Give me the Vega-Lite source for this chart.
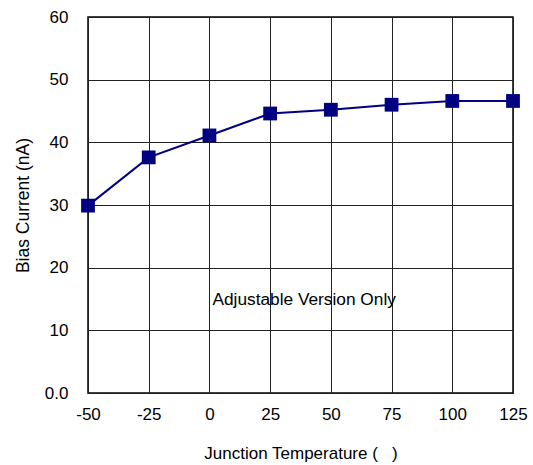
{
  "$schema": "https://vega.github.io/schema/vega-lite/v6.json",
  "autosize": {"type": "none"},
  "padding": {"left": 88, "top": 17, "right": 20, "bottom": 72},
  "width": 425,
  "height": 376,
  "background": "white",
  "config": {
    "font": "Liberation Sans",
    "view": {"stroke": "black", "strokeWidth": 1.5},
    "axis": {
      "grid": true,
      "gridColor": "#222222",
      "gridOpacity": 1,
      "gridWidth": 1,
      "domain": false,
      "ticks": false,
      "labelFont": "Liberation Sans",
      "labelFontSize": 17,
      "labelColor": "black",
      "titleFont": "Liberation Sans",
      "titleFontWeight": "normal",
      "titleColor": "black"
    }
  },
  "datasets": {
    "bias": [
      {"temp": -50, "current": 29.9},
      {"temp": -25, "current": 37.6},
      {"temp": 0, "current": 41.1},
      {"temp": 25, "current": 44.6},
      {"temp": 50, "current": 45.2},
      {"temp": 75, "current": 46.0},
      {"temp": 100, "current": 46.6},
      {"temp": 125, "current": 46.6}
    ],
    "note": [{"temp": 39, "current": 14.8, "label": "Adjustable Version Only"}]
  },
  "layer": [
    {
      "data": {"name": "bias"},
      "mark": {"type": "line", "color": "#000080", "strokeWidth": 2},
      "encoding": {
        "x": {
          "field": "temp", "type": "quantitative",
          "scale": {"domain": [-50, 125], "nice": false},
          "axis": {"values": [-50, -25, 0, 25, 50, 75, 100, 125], "labelExpr": "replace(datum.label, '\u2212', '-')", "labelPadding": 13, "title": "Junction Temperature (\u00a0\u00a0\u00a0)", "titleFontSize": 17, "titlePadding": 23, "labelFlush": false}
        },
        "y": {
          "field": "current", "type": "quantitative",
          "scale": {"domain": [0, 60], "nice": false},
          "axis": {"values": [0, 10, 20, 30, 40, 50, 60], "labelExpr": "datum.value == 0 ? '0.0' : datum.label", "labelPadding": 20, "title": "Bias Current (nA)", "titleFontSize": 17.5, "titlePadding": 12, "labelFlush": false}
        }
      }
    },
    {
      "data": {"name": "bias"},
      "mark": {"type": "point", "shape": "square", "filled": true, "color": "#000080", "opacity": 1, "size": 190},
      "encoding": {
        "x": {"field": "temp", "type": "quantitative"},
        "y": {"field": "current", "type": "quantitative"}
      }
    },
    {
      "data": {"name": "note"},
      "mark": {"type": "text", "fontSize": 17.3, "font": "Liberation Sans", "color": "black"},
      "encoding": {
        "x": {"field": "temp", "type": "quantitative"},
        "y": {"field": "current", "type": "quantitative"},
        "text": {"field": "label"}
      }
    }
  ]
}
